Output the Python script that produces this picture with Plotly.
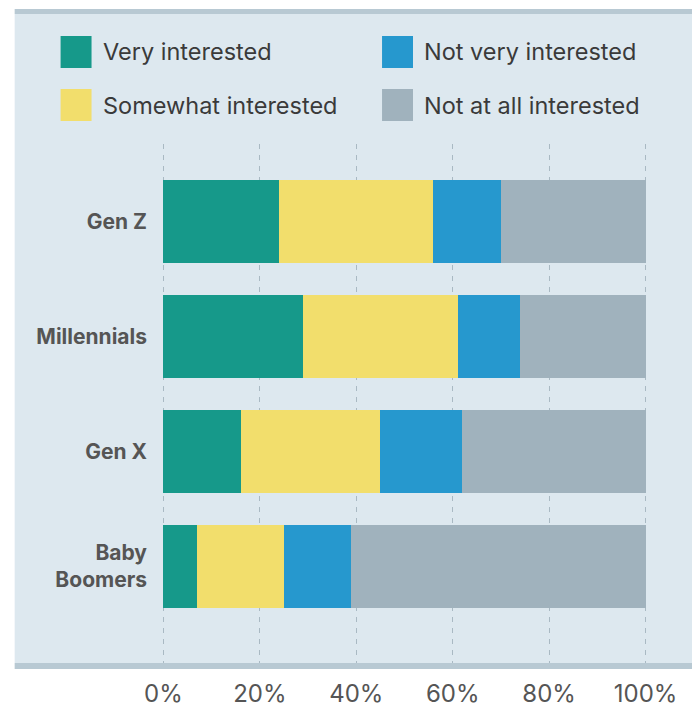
import plotly.graph_objects as go

categories = ["Gen Z", "Millennials", "Gen X", "Baby<br>Boomers"]
series_names = ["Very interested", "Somewhat interested", "Not very interested", "Not at all interested"]
very = [24, 29, 16, 7]
somewhat = [32, 32, 29, 18]
not_very = [14, 13, 17, 14]
not_at_all = [30, 26, 38, 61]
series_values = [very, somewhat, not_very, not_at_all]
colors = ["#16998a", "#f2de6c", "#2698ce", "#a0b2bd"]
tick_vals = [0, 20, 40, 60, 80, 100]
tick_text = ["0%", "20%", "40%", "60%", "80%", "100%"]

FONT = "Inter"
W, H = 692, 707
X0, X100 = 163, 646          # pixel of 0% and 100%
T, B = 144, 663              # plot area top / bottom
pad_units = 0.5
ppu = (X100 - X0) / 100.0
L = X0 - pad_units * ppu
R = X100 + pad_units * ppu

def px(x):
    return (x - L) / (R - L)

def py(y):
    return (B - y) / (B - T)

fig = go.Figure()
for name, vals, col in zip(series_names, series_values, colors):
    fig.add_trace(go.Bar(
        y=categories, x=vals, name=name, orientation="h",
        marker=dict(color=col, line=dict(width=0)),
        showlegend=False, hoverinfo="x+name",
    ))

shapes = []
shapes.append(dict(type="rect", xref="paper", yref="paper", x0=px(14), x1=px(700),
                   y0=py(663), y1=py(14), fillcolor="#dde8ef", line=dict(width=0), layer="below"))
shapes.append(dict(type="rect", xref="paper", yref="paper", x0=px(14), x1=px(700),
                   y0=py(14), y1=py(9), fillcolor="#b8c9d3", line=dict(width=0), layer="below"))
shapes.append(dict(type="rect", xref="paper", yref="paper", x0=px(14), x1=px(700),
                   y0=py(669), y1=py(663), fillcolor="#b8c9d3", line=dict(width=0), layer="above"))

annotations = []
legend_pos = [(60, 52), (60, 105), (382, 52), (382, 105)]
for (lx, ly), name, col in zip(legend_pos, series_names, colors):
    shapes.append(dict(type="rect", xref="paper", yref="paper", x0=px(lx), x1=px(lx + 31),
                       y0=py(ly + 16), y1=py(ly - 16), fillcolor=col, line=dict(width=0)))
    annotations.append(dict(xref="paper", yref="paper", x=px(lx + 40), y=py(ly),
                            xanchor="left", yanchor="middle", text=name, showarrow=False,
                            font=dict(size=23.5, color="#3a3a3a", family=FONT)))

fig.update_layout(
    width=W, height=H,
    margin=dict(l=L, r=W - R, t=T, b=H - B, pad=0),
    barmode="stack", bargap=0.276,
    paper_bgcolor="white", plot_bgcolor="rgba(0,0,0,0)",
    shapes=shapes, annotations=annotations,
    font=dict(family=FONT, color="#555555"),
    xaxis=dict(range=[-pad_units, 100 + pad_units], tickvals=tick_vals, ticktext=tick_text,
               showgrid=True, gridcolor="#a9b9c3", gridwidth=1, griddash="5px,6px",
               zeroline=False, showline=False, ticks="", automargin=False,
               tickfont=dict(size=24, color="#555555", family=FONT), ticklabelstandoff=14,
               fixedrange=True),
    yaxis=dict(range=[3.841, -0.676], showgrid=False, zeroline=False, showline=False,
               ticks="", ticklabelstandoff=13, automargin=False,
               tickfont=dict(size=21, color="#555555", family=FONT, weight="bold"),
               fixedrange=True),
)

post = ("document.documentElement.style.margin='0';document.documentElement.style.overflow='hidden';"
        "document.body.style.margin='0';document.body.style.overflow='hidden';")
fig.write_html("out.html", post_script=post, config={"displayModeBar": False})
